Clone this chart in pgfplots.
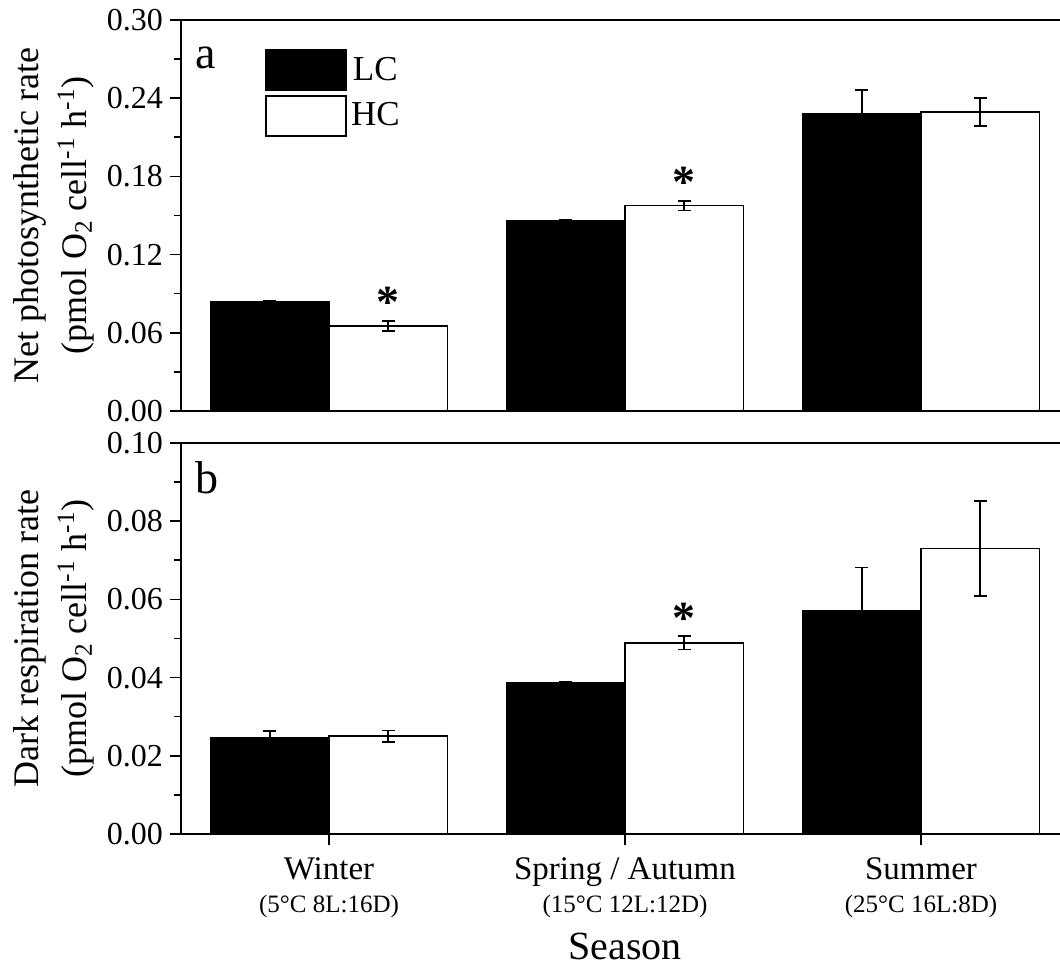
\documentclass[border=0pt]{standalone}
\usepackage{fontspec}
\setmainfont{Liberation Serif}
\usepackage{pgfplots}
\pgfplotsset{compat=1.18}

\newcommand\sub[1]{{\fontsize{12.5}{14}\selectfont #1}}
\newcommand\unit{(pmol O\textsubscript{2} cell\textsuperscript{-1} h\textsuperscript{-1})}

\tikzset{star/.style={font=\fontsize{23}{25}\selectfont\bfseries, anchor=base, inner sep=0pt}}

\pgfplotsset{
  panel/.style={
    scale only axis, width=444pt, height=195.5pt,
    xmin=0.5, xmax=3.5, ymin=0,
    axis line style={line width=1pt},
    ybar, bar width=0.4,
    tick align=outside, ytick pos=left, xtick pos=bottom,
    major tick length=5.5pt, minor tick length=3.5pt,
    every tick/.style={black, line width=0.8pt},
    minor y tick num=1,
    yticklabel style={font=\fontsize{16}{18}\selectfont,
      /pgf/number format/.cd, fixed, fixed zerofill, precision=2, assume math mode=true},
    ylabel style={font=\fontsize{18}{21}\selectfont, align=center,
      at={(axis description cs:-0.143,0.5)}, anchor=center},
    clip=false,
  },
  errb/.style={error bars/.cd, y dir=both, y explicit,
    error bar style={line width=0.8pt, black},
    error mark options={rotate=90, mark size=3.2pt, line width=0.8pt, black},
    /pgfplots/.cd},
  lc/.style={draw=black, fill=black, line width=0.8pt, bar shift=-0.2, errb},
  hc/.style={draw=black, fill=white, line width=0.8pt, bar shift=0.2, errb},
}

\begin{document}
\begin{tikzpicture}
% bottom panel (b)
\begin{axis}[panel, name=bot, at={(0,0)}, anchor=south west,
    ymax=0.10, ytick={0,0.02,0.04,0.06,0.08,0.10},
    xtick={1,2,3},
    xticklabels={{Winter\\\sub{(5°C 8L:16D)}},
                 {Spring / Autumn\\\sub{(15°C 12L:12D)}},
                 {Summer\\\sub{(25°C 16L:8D)}}},
    x tick label style={font=\fontsize{16.5}{16.5}\selectfont, align=center, yshift=-3pt},
    xlabel={Season},
    xlabel style={font=\fontsize{20}{22}\selectfont, at={(axis description cs:0.5,0)}, anchor=base, yshift=-63pt},
    ylabel={Dark respiration rate\\[3pt]\unit},
]
\addplot[lc] coordinates {(1,0.0246) +- (0,0.0018) (2,0.0386) +- (0,0.0003) (3,0.0572) +- (0,0.011)};
\addplot[hc] coordinates {(1,0.0250) +- (0,0.0015) (2,0.0489) +- (0,0.0017) (3,0.0730) +- (0,0.0122)};
\node[font=\fontsize{23}{25}\selectfont, anchor=base west, inner sep=0pt] at (axis description cs:0.0158,0.872) {b};
\node[star] at (axis cs:2.2,0.0513) {*};
\end{axis}

% top panel (a)
\begin{axis}[panel, name=top, at={(0,211.5pt)}, anchor=south west,
    ymax=0.30, ytick={0,0.06,0.12,0.18,0.24,0.30},
    xtick=\empty,
    ylabel={Net photosynthetic rate\\[3pt]\unit},
    legend style={at={(0.0946,0.926)}, anchor=north west, draw=none, fill=none,
      font=\fontsize{17.5}{19}\selectfont, row sep=2pt, inner sep=0pt,
      /tikz/every even column/.append style={column sep=3pt}},
]
\addplot[lc, legend image code/.code={\draw[fill=black, line width=0.8pt] (0pt,-10pt) rectangle (40pt,10pt);}]
  coordinates {(1,0.0839) +- (0,0.0005) (2,0.1460) +- (0,0.0008) (3,0.2281) +- (0,0.018)};
\addlegendentry{LC}
\addplot[hc, legend image code/.code={\draw[fill=white, line width=0.8pt] (0pt,-10pt) rectangle (40pt,10pt);}]
  coordinates {(1,0.0652) +- (0,0.004) (2,0.1576) +- (0,0.0037) (3,0.2294) +- (0,0.0107)};
\addlegendentry{HC}
\node[font=\fontsize{23}{25}\selectfont, anchor=base west, inner sep=0pt] at (axis description cs:0.0158,0.877) {a};
\node[star] at (axis cs:1.2,0.072) {*};
\node[star] at (axis cs:2.2,0.164) {*};
\end{axis}

\pgfresetboundingbox
\path[use as bounding box] (-90.5pt,-67pt) rectangle (439.5pt,417pt);
\end{tikzpicture}
\end{document}
